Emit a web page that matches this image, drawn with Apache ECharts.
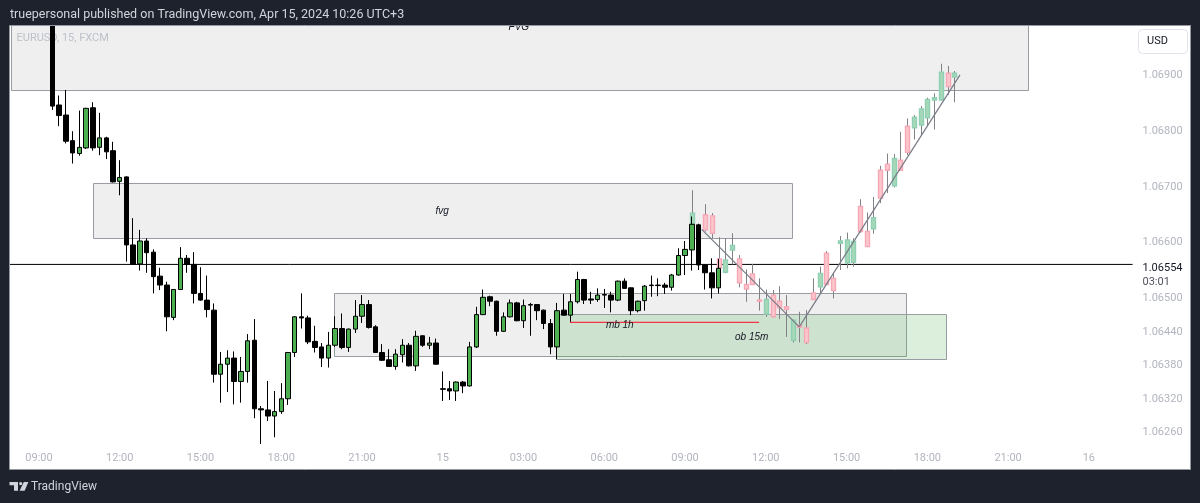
<!DOCTYPE html>
<html>
<head>
<meta charset="utf-8">
<title>EURUSD 15</title>
<script src="https://cdn.jsdelivr.net/npm/echarts@6/dist/echarts.min.js"></script>
<style>
  html, body { margin: 0; padding: 0; background: #1e222d; }
  #chart { width: 1200px; height: 503px; }
</style>
</head>
<body>
<div id="chart"></div>
<script>
// x axis tick labels, day numbers sit at midnight
const xTickLabels = ["09:00", "12:00", "15:00", "18:00", "21:00", "15", "03:00", "06:00", "09:00", "12:00", "15:00", "18:00", "21:00", "16"];
const yTickValues = [1.069, 1.068, 1.067, 1.066, 1.065, 1.0644, 1.0638, 1.0632, 1.0626];
const lastPrice = 1.06561;
const lastPriceLabel = "1.06554";
const countdownLabel = "03:01";

// 15 minute slots, first one is 08:00
const slotCount = 167;
const categories = [];
for (let i = 0; i < slotCount; i++) {
  const mins = (8 * 60 + 15 * i) % 1440;
  const hh = String(Math.floor(mins / 60)).padStart(2, "0");
  const mm = String(mins % 60).padStart(2, "0");
  const day = 14 + Math.floor((8 * 60 + 15 * i) / 1440);
  categories.push(mins === 0 ? String(day) : hh + ":" + mm);
}

// open, close, low, high
const firstBar = 6;
const candles = [
  [1.07010,1.06845,1.06838,1.07030],[1.06847,1.06828,1.06809,1.06864],[1.06829,1.06782,1.06778,1.06874],
  [1.06783,1.06761,1.06742,1.06800],[1.06760,1.06771,1.06756,1.06837],[1.06770,1.06841,1.06768,1.06842],
  [1.06842,1.06770,1.06765,1.06852],[1.06771,1.06788,1.06757,1.06833],[1.06788,1.06763,1.06750,1.06790],
  [1.06765,1.06709,1.06708,1.06781],[1.06710,1.06717,1.06685,1.06748],[1.06718,1.06596,1.06566,1.06719],
  [1.06596,1.06561,1.06560,1.06644],[1.06562,1.06603,1.06550,1.06623],[1.06603,1.06582,1.06546,1.06608],
  [1.06583,1.06539,1.06509,1.06588],[1.06540,1.06524,1.06515,1.06555],[1.06524,1.06467,1.06441,1.06530],
  [1.06466,1.06516,1.06461,1.06517],[1.06516,1.06572,1.06515,1.06592],[1.06572,1.06561,1.06546,1.06578],
  [1.06561,1.06509,1.06491,1.06583],[1.06509,1.06497,1.06496,1.06556],[1.06497,1.06480,1.06466,1.06541],
  [1.06479,1.06364,1.06349,1.06491],[1.06364,1.06382,1.06313,1.06404],[1.06382,1.06393,1.06332,1.06407],
  [1.06393,1.06351,1.06310,1.06405],[1.06351,1.06369,1.06313,1.06395],[1.06369,1.06424,1.06349,1.06436],
  [1.06425,1.06302,1.06285,1.06463],[1.06302,1.06300,1.06239,1.06307],[1.06300,1.06289,1.06280,1.06352],
  [1.06289,1.06297,1.06251,1.06334],[1.06297,1.06320,1.06293,1.06348],[1.06320,1.06403,1.06309,1.06404],
  [1.06403,1.06467,1.06395,1.06468],[1.06467,1.06465,1.06446,1.06509],[1.06465,1.06422,1.06418,1.06469],
  [1.06423,1.06412,1.06403,1.06451],[1.06413,1.06393,1.06377,1.06420],[1.06393,1.06416,1.06376,1.06440],
  [1.06416,1.06446,1.06413,1.06468],[1.06446,1.06412,1.06409,1.06473],[1.06412,1.06445,1.06404,1.06446],
  [1.06445,1.06468,1.06438,1.06497],[1.06468,1.06489,1.06456,1.06506],[1.06489,1.06448,1.06446,1.06497],
  [1.06449,1.06403,1.06402,1.06452],[1.06403,1.06389,1.06388,1.06418],[1.06390,1.06378,1.06377,1.06409],
  [1.06378,1.06400,1.06372,1.06409],[1.06399,1.06416,1.06385,1.06427],[1.06416,1.06379,1.06378,1.06420],
  [1.06379,1.06432,1.06370,1.06442],[1.06433,1.06416,1.06413,1.06434],[1.06416,1.06420,1.06409,1.06431],
  [1.06420,1.06382,1.06381,1.06428],[1.06338,1.06337,1.06316,1.06369],[1.06338,1.06334,1.06318,1.06352],
  [1.06334,1.06350,1.06316,1.06351],[1.06350,1.06343,1.06330,1.06352],[1.06343,1.06413,1.06342,1.06422],
  [1.06413,1.06471,1.06411,1.06485],[1.06471,1.06502,1.06470,1.06516],[1.06503,1.06495,1.06486,1.06505],
  [1.06495,1.06441,1.06433,1.06496],[1.06441,1.06467,1.06440,1.06475],[1.06467,1.06492,1.06466,1.06498],
  [1.06492,1.06460,1.06459,1.06494],[1.06460,1.06487,1.06447,1.06498],[1.06489,1.06488,1.06433,1.06492],
  [1.06489,1.06478,1.06461,1.06490],[1.06479,1.06455,1.06445,1.06480],[1.06455,1.06413,1.06400,1.06463],
  [1.06413,1.06478,1.06391,1.06492],[1.06479,1.06470,1.06469,1.06508],[1.06470,1.06494,1.06456,1.06508],
  [1.06494,1.06534,1.06491,1.06548],[1.06534,1.06497,1.06490,1.06535],[1.06499,1.06497,1.06490,1.06512],
  [1.06498,1.06506,1.06494,1.06518],[1.06507,1.06506,1.06483,1.06517],[1.06506,1.06497,1.06475,1.06512],
  [1.06497,1.06531,1.06495,1.06532],[1.06531,1.06518,1.06517,1.06536],[1.06519,1.06478,1.06470,1.06520],
  [1.06478,1.06495,1.06475,1.06496],[1.06496,1.06522,1.06478,1.06524],[1.06524,1.06523,1.06503,1.06541],
  [1.06524,1.06523,1.06504,1.06536],[1.06524,1.06520,1.06508,1.06528],[1.06520,1.06542,1.06514,1.06544],
  [1.06542,1.06577,1.06541,1.06590],[1.06577,1.06588,1.06542,1.06603],[1.06587,1.06633,1.06550,1.06647],
  [1.06632,1.06560,1.06551,1.06634],[1.06560,1.06546,1.06516,1.06561],[1.06546,1.06519,1.06500,1.06572],
  [1.06519,1.06554,1.06509,1.06571]
];

// projected bars pattern, pale colours, same column order. null = nothing visible
const firstGhost = 101;
const ghostCandles = [
  [1.06633,1.06653,1.06632,1.06694],null,[1.06650,1.06623,1.06620,1.06669],[1.06648,1.06617,1.06608,1.06653],
  [1.06571,1.06555,1.06554,1.06610],[1.06547,1.06569,1.06545,1.06608],[1.06587,1.06595,1.06561,1.06617],
  [1.06571,1.06528,1.06520,1.06578],[1.06525,1.06517,1.06494,1.06552],[1.06544,1.06525,1.06524,1.06562],
  [1.06497,1.06495,1.06478,1.06536],[1.06472,1.06498,1.06467,1.06516],[1.06506,1.06467,1.06466,1.06515],
  [1.06495,1.06483,1.06463,1.06522],[1.06485,1.06480,1.06431,1.06506],[1.06425,1.06461,1.06421,1.06462],
  [1.06452,1.06448,1.06421,1.06476],[1.06447,1.06421,1.06418,1.06479],[1.06510,1.06498,1.06497,1.06536],
  [1.06521,1.06545,1.06509,1.06557],[1.06581,1.06525,1.06524,1.06585],[1.06536,1.06514,1.06500,1.06546],
  [1.06599,1.06603,1.06551,1.06612],[1.06564,1.06605,1.06554,1.06618],[1.06565,1.06602,1.06557,1.06608],
  [1.06665,1.06620,1.06618,1.06678],[1.06620,1.06593,1.06592,1.06654],[1.06625,1.06645,1.06616,1.06682],
  [1.06730,1.06680,1.06671,1.06738],[1.06741,1.06730,1.06689,1.06760],[1.06702,1.06751,1.06699,1.06759],
  [1.06748,1.06730,1.06729,1.06799],[1.06809,1.06762,1.06757,1.06823],[1.06806,1.06825,1.06785,1.06829],
  [1.06811,1.06840,1.06793,1.06845],[1.06824,1.06857,1.06809,1.06860],[1.06856,1.06860,1.06803,1.06868],
  [1.06856,1.06906,1.06855,1.06921],[1.06904,1.06880,1.06865,1.06917],[1.06897,1.06904,1.06852,1.06908]
];

// drawn boxes: from slot, to slot, top price, bottom price
const greyZones = [
  [-0.06, 151, 1.0725, 1.06873],
  [12.07, 115.9, 1.06706, 1.06608],
  [47.94, 132.87, 1.06509, 1.06396]
];
const greenZones = [[80.92, 138.8, 1.06471, 1.06391]];

// drawn text: slot, price, text
const notes = [
  [75.3, 1.06987, "FVG"],
  [63.9, 1.06657, "fvg"],
  [90.3, 1.06452, "mb 1h"],
  [109.9, 1.06431, "ob 15m"]
];

// trend lines and the red level, [slot, price]
const trendDown = [[102.47, 1.06624], [116.97, 1.06449]];
const trendUp = [[116.97, 1.06449], [140.85, 1.06901]];
const mbLevel = [[82.9, 1.06457], [111, 1.06457]];
const priceLine = [[-0.5, lastPrice], [166.5, lastPrice]];

const DARK = "#1e222d";
const GRID_LEFT = 8.7;
const GRID_RIGHT = 67.4;
const FONT = "Roboto, 'Noto Sans', sans-serif";

const renderZone = (fill) => (params, api) => {
  const a = api.coord([api.value(0), api.value(2)]);
  const b = api.coord([api.value(1), api.value(3)]);
  const x = Math.floor(a[0]) + 0.5;
  const y = Math.floor(a[1]) + 0.5;
  return {
    type: "rect",
    shape: { x, y, width: Math.floor(b[0]) + 0.5 - x, height: Math.floor(b[1]) + 0.5 - y },
    style: { fill, stroke: "#9a9ca3", lineWidth: 1 }
  };
};

const renderGhost = (params, api) => {
  const x = api.value(0);
  const open = api.value(1);
  const close = api.value(2);
  const top = api.coord([x, Math.max(open, close)]);
  const bottom = api.coord([x, Math.min(open, close)]);
  const low = api.coord([x, api.value(3)]);
  const high = api.coord([x, api.value(4)]);
  const up = close > open;
  const cx = Math.round(top[0]) + 0.5;
  return {
    type: "group",
    children: [
      {
        type: "line",
        shape: { x1: cx, y1: high[1], x2: cx, y2: low[1] },
        style: { stroke: "#808285", lineWidth: 1 }
      },
      {
        type: "rect",
        shape: { x: cx - 2, y: top[1], width: 4, height: Math.max(bottom[1] - top[1], 1) },
        style: {
          fill: up ? "#a6d8b8" : "#fbc6cc",
          stroke: up ? "#8fd0b5" : "#f7a8b6",
          lineWidth: 1.4
        }
      }
    ]
  };
};

const renderNote = (params, api) => {
  const p = api.coord([api.value(0), api.value(1)]);
  return {
    type: "text",
    x: p[0],
    y: p[1],
    style: {
      text: notes[params.dataIndex][2],
      fill: "#131722",
      font: "italic 10px 'Liberation Sans', Arial, sans-serif",
      align: "center",
      verticalAlign: "middle"
    }
  };
};

const overlayLine = (name, data, color, width, z) => ({
  name,
  type: "line",
  xAxisIndex: 1,
  data,
  showSymbol: false,
  silent: true,
  z,
  lineStyle: { color, width }
});

const chart = echarts.init(document.getElementById("chart"));

// no bars before firstBar
const candleData = [];
for (let i = 0; i < firstBar; i++) candleData.push(["-", "-", "-", "-"]);
candles.forEach((c) => candleData.push(c));

chart.setOption({
  animation: false,
  backgroundColor: "#ffffff",
  grid: { left: GRID_LEFT, right: GRID_RIGHT, top: 25, bottom: 34 },
  xAxis: [
    {
      type: "category",
      data: categories,
      axisLine: { show: false },
      axisTick: { show: false },
      splitLine: { show: false },
      axisLabel: {
        inside: true,
        color: "#b2b5be",
        fontFamily: FONT,
        fontSize: 11,
        margin: 5,
        interval: (index, value) => xTickLabels.includes(value)
      }
    },
    // same span as the slots but continuous, used by the drawn objects
    { type: "value", min: -0.5, max: slotCount - 0.5, show: false }
  ],
  yAxis: {
    type: "value",
    position: "right",
    min: 1.06194,
    max: 1.069905,
    axisLine: { show: false },
    axisTick: { show: false },
    splitLine: { show: false },
    axisLabel: {
      color: "#b2b5be",
      fontFamily: FONT,
      fontSize: 11,
      margin: 10,
      padding: [3, 0, 0, 0],
      customValues: yTickValues,
      formatter: (v) => v.toFixed(5)
    }
  },
  series: [
    {
      name: "Boxes",
      type: "custom",
      xAxisIndex: 1,
      renderItem: renderZone("rgba(120,123,134,0.12)"),
      data: greyZones,
      encode: { x: [0, 1], y: [2, 3] },
      clip: true,
      silent: true,
      z: 1
    },
    {
      name: "Order block",
      type: "custom",
      xAxisIndex: 1,
      renderItem: renderZone("rgba(76,175,80,0.2)"),
      data: greenZones,
      encode: { x: [0, 1], y: [2, 3] },
      clip: true,
      silent: true,
      z: 1
    },
    overlayLine("Last price", priceLine, "#000000", 1, 1.5),
    {
      name: "Bars pattern",
      type: "custom",
      xAxisIndex: 1,
      renderItem: renderGhost,
      data: ghostCandles
        .map((c, k) => (c ? [firstGhost + k].concat(c) : null))
        .filter(Boolean),
      encode: { x: 0, y: [1, 2, 3, 4] },
      silent: true,
      z: 2
    },
    {
      name: "EURUSD",
      type: "candlestick",
      data: candleData,
      barWidth: 5,
      silent: true,
      z: 3,
      itemStyle: {
        color: "#4caf50",
        color0: "#000000",
        borderColor: "#000000",
        borderColor0: "#000000",
        borderColorDoji: "#000000",
        borderWidth: 1
      }
    },
    overlayLine("Trend down", trendDown, "#787b86", 1.2, 4),
    overlayLine("Trend up", trendUp, "#787b86", 1.2, 4),
    overlayLine("mb 1h", mbLevel, "#f23645", 1.2, 4),
    {
      name: "Notes",
      type: "custom",
      xAxisIndex: 1,
      renderItem: renderNote,
      data: notes.map((n) => [n[0], n[1]]),
      clip: false,
      silent: true,
      z: 5
    }
  ],
  graphic: [
    // frame around the chart, on top so overflowing drawings get cut
    { type: "rect", z: 100, shape: { x: 0, y: 0, width: 1200, height: 25 }, style: { fill: DARK } },
    { type: "rect", z: 100, shape: { x: 0, y: 470, width: 1200, height: 33 }, style: { fill: DARK } },
    { type: "rect", z: 100, shape: { x: 0, y: 0, width: 10, height: 503 }, style: { fill: DARK } },
    { type: "rect", z: 100, shape: { x: 1190.5, y: 0, width: 10, height: 503 }, style: { fill: DARK } },
    { type: "rect", z: 101, shape: { x: 9.5, y: 25.5, width: 1181, height: 444 }, style: { fill: "none", stroke: "#9598a1", lineWidth: 1 } },
    {
      type: "text", z: 102, left: 10, top: 8,
      style: { text: "truepersonal published on TradingView.com, Apr 15, 2024 10:26 UTC+3", fill: "#d1d4dc", font: "12.5px " + FONT }
    },
    {
      type: "text", z: 0, left: 16.5, top: 33,
      style: { text: "EURUSD, 15, FXCM", fill: "#c8cbd3", font: "11px " + FONT }
    },
    { type: "rect", z: 102, shape: { x: 1138.5, y: 29.5, width: 49, height: 24, r: 4 }, style: { fill: "#ffffff", stroke: "#e0e3eb", lineWidth: 1 } },
    { type: "text", z: 103, left: 1147, top: 35.5, style: { text: "USD", fill: "#131722", font: "11px " + FONT } },
    { type: "text", z: 102, left: 1142.5, top: 263, style: { text: lastPriceLabel, fill: "#131722", font: "11px " + FONT } },
    { type: "text", z: 102, left: 1142.5, top: 277, style: { text: countdownLabel, fill: "#50535e", font: "11px " + FONT } },
    // TradingView mark and name
    { type: "polygon", z: 102, shape: { points: [[9.5, 482], [18, 482], [18, 490.8], [14, 490.8], [14, 485.2], [9.5, 485.2]] }, style: { fill: "#d1d4dc" } },
    { type: "circle", z: 102, shape: { cx: 20.7, cy: 483.6, r: 1.6 }, style: { fill: "#d1d4dc" } },
    { type: "polygon", z: 102, shape: { points: [[23.8, 482], [28.4, 482], [24.6, 490.8], [19.6, 490.8]] }, style: { fill: "#d1d4dc" } },
    { type: "text", z: 102, left: 31, top: 480.5, style: { text: "TradingView", fill: "#d1d4dc", font: "12px " + FONT } }
  ]
});
</script>
</body>
</html>
